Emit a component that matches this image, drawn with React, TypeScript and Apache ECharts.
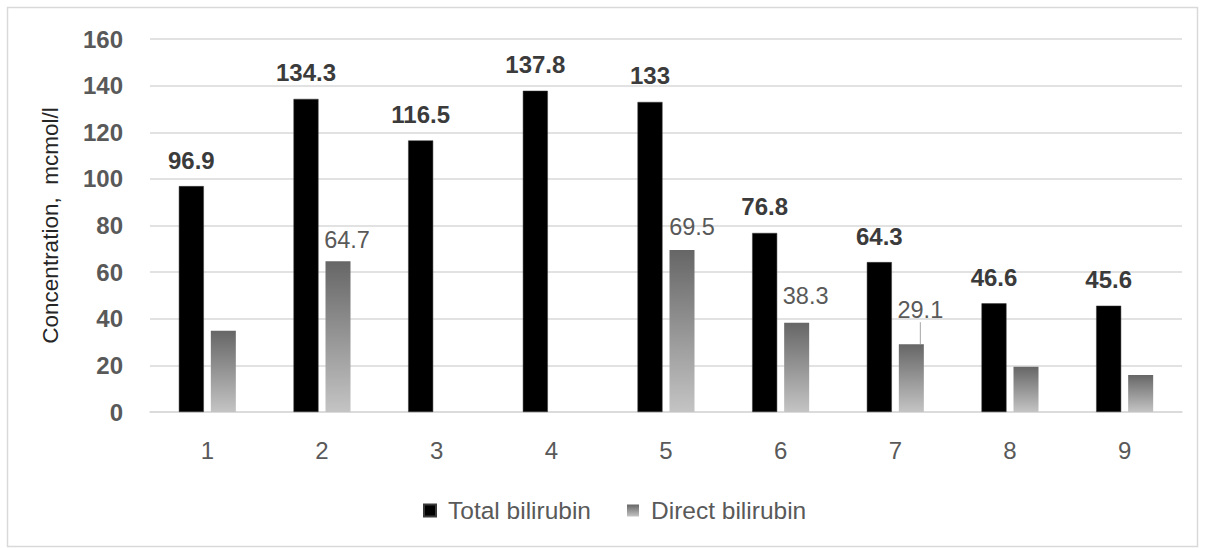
import React, { useEffect, useRef } from "react";
import * as echarts from "echarts";

const categories = ["1", "2", "3", "4", "5", "6", "7", "8", "9"];
const totalBilirubin = [96.9, 134.3, 116.5, 137.8, 133, 76.8, 64.3, 46.6, 45.6];
const directBilirubin: (number | null)[] = [34.8, 64.7, null, null, 69.5, 38.3, 29.1, 19.4, 15.9];
const directLabelShown = [false, true, false, false, true, true, true, false, false];
const directLabelDx = [0, 9, 0, 0, 10, 9, 9, 0, 0];
const directLabelDy = [0, -3, 0, 0, -5, -9, -16, 0, 0];
const directLeader = [false, false, false, false, false, false, true, false, false];
const yTicks = { min: 0, max: 160, interval: 20 };

const FONT = "'Liberation Sans', Arial, sans-serif";

export default function App() {
  const ref = useRef<HTMLDivElement>(null);
  useEffect(() => {
    document.body.style.margin = "0";
    if (!ref.current) return;
    const chart = echarts.init(ref.current, null, { renderer: "svg" });
    const grad = new echarts.graphic.LinearGradient(0, 0, 0, 1, [
      { offset: 0, color: "#666666" },
      { offset: 1, color: "#c4c4c4" },
    ]);
    chart.setOption({
      animation: false,
      backgroundColor: "#ffffff",
      textStyle: { fontFamily: FONT },
      graphic: [
        {
          type: "rect",
          shape: { x: 7.5, y: 7.5, width: 1190, height: 539 },
          style: { fill: "none", stroke: "#d9d9d9", lineWidth: 1.5 },
          silent: true,
        },
      ],
      grid: { left: 150, right: 23, top: 39, bottom: 136, containLabel: false },
      legend: {
        bottom: 20,
        left: 418,
        itemWidth: 12,
        itemHeight: 12,
        itemGap: 36,
        textStyle: { fontSize: 24.5, color: "#595959", fontFamily: FONT, padding: [0, 0, 0, 7] },
        data: [
          { name: "Total bilirubin", icon: "rect" },
          { name: "Direct bilirubin", icon: "rect" },
        ],
      },
      xAxis: {
        type: "category",
        data: categories,
        axisLine: { show: true, lineStyle: { color: "#d9d9d9", width: 1.5 } },
        axisTick: { show: false },
        axisLabel: { fontSize: 24, color: "#595959", margin: 26, fontFamily: FONT },
      },
      yAxis: {
        type: "value",
        min: yTicks.min,
        max: yTicks.max,
        interval: yTicks.interval,
        name: "Concentration,  mcmol/l",
        nameLocation: "middle",
        nameGap: 88,
        nameTextStyle: { fontSize: 22.5, color: "#262626", fontFamily: FONT },
        axisLine: { show: false },
        axisTick: { show: false },
        axisLabel: { fontSize: 24, fontWeight: "bold", color: "#595959", margin: 27, fontFamily: FONT },
        splitLine: { lineStyle: { color: "#d9d9d9", width: 1.5 } },
      },
      series: [
        {
          name: "Total bilirubin",
          type: "bar",
          barWidth: 25,
          barGap: "28%",
          data: totalBilirubin,
          itemStyle: { color: "#000000", borderColor: "#3a3a3a", borderWidth: 0.5 },
          label: {
            show: true,
            position: "top",
            distance: 14,
            fontSize: 24,
            fontWeight: "bold",
            color: "#3b3b3b",
            fontFamily: FONT,
          },
        },
        {
          name: "Direct bilirubin",
          type: "bar",
          barWidth: 25,
          data: directBilirubin.map((v, i) => ({
            value: v,
            label: { show: directLabelShown[i] },
            labelLine: { show: directLeader[i], lineStyle: { color: "#a6a6a6", width: 1 } },
          })),
          itemStyle: { color: grad },
          label: {
            show: true,
            position: "top",
            distance: 6,
            fontSize: 23.5,
            color: "#595959",
            fontFamily: FONT,
          },
          labelLayout: (p: any) => ({
            dx: directLabelDx[p.dataIndex] || 0,
            dy: directLabelDy[p.dataIndex] || 0,
          }),
        },
      ],
    });
    return () => chart.dispose();
  }, []);
  return <div ref={ref} style={{ width: 1205, height: 548 }} />;
}
